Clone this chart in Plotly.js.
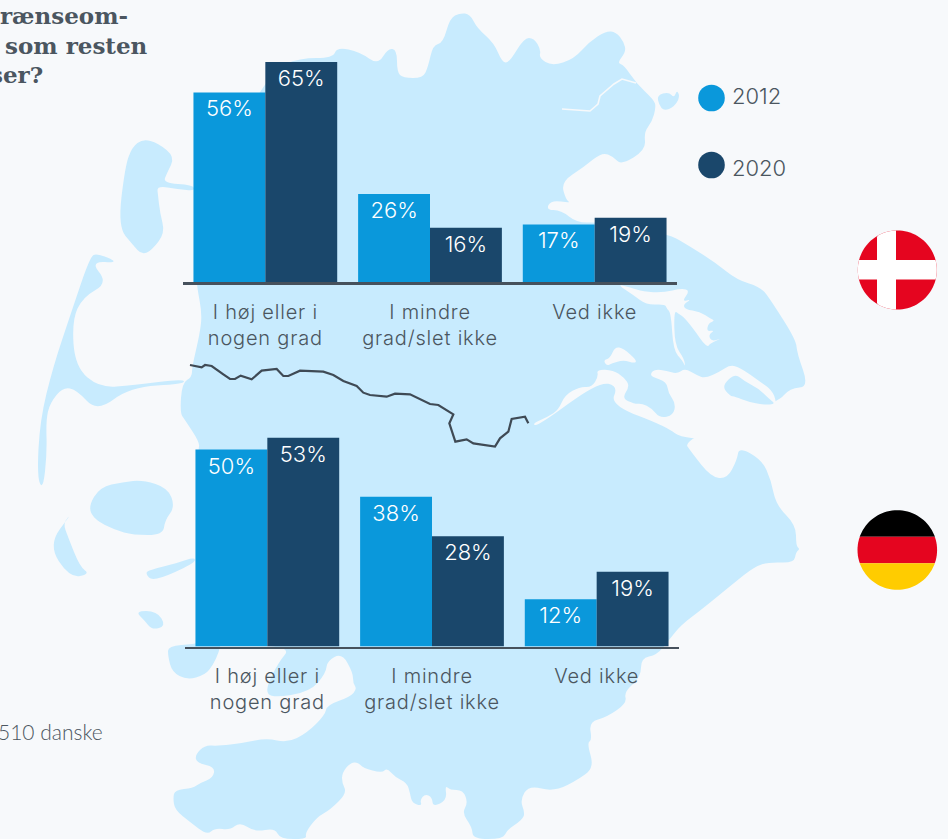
<!DOCTYPE html>
<html>
<head>
<meta charset="utf-8">
<script src="https://cdn.plot.ly/plotly-3.0.1.min.js"></script>
<style>html,body{margin:0;padding:0;background:#f7f9fb;overflow:hidden}
.xtick text,.x2tick text{letter-spacing:.8px}</style>
</head>
<body>
<div id="chart" style="width:948px;height:839px"></div>
<script>
const categories = ["I høj eller i<br>nogen grad", "I mindre<br>grad/slet ikke", "Ved ikke"];
const dk2012 = [56, 26, 17];
const dk2020 = [65, 16, 19];
const de2012 = [50, 38, 12];
const de2020 = [53, 28, 19];
const seriesNames = ["2012", "2020"];
const titleLines = ["rænseom-", "som resten", "ser?"];
const sourceText = "510 danske";

const W = 948, H = 839;
const BG = "#f7f9fb", LAND = "#c8ebfe", C12 = "#0a98db", C20 = "#1a476b", INK = "#4b5660";
const FONT = "Inter, 'Open Sans', sans-serif";

// decorative background map, in page pixels
const mapMain = [[460,13],[470,14],[477,28],[494,43],[502,62],[509,63],[524,38],[534,38],[541,50],[539,58],[552,66],[574,59],[589,42],[606,31],[616,32],[624,42],[626,52],[617,63],[624,65],[636,83],[654,100],[656,107],[652,122],[644,132],[646,150],[621,165],[614,157],[602,152],[584,167],[561,182],[566,200],[571,203],[551,200],[546,210],[561,210],[577,223],[600,222],[667,233],[691,247],[716,263],[737,280],[761,287],[772,302],[796,340],[797,353],[809,387],[790,388],[777,403],[683,440],[692,453],[711,477],[727,479],[737,460],[739,447],[762,460],[771,480],[776,505],[796,525],[796,546],[800,549],[796,552],[794,563],[769,562],[754,567],[734,583],[701,610],[681,625],[669,640],[657,655],[641,658],[641,677],[624,692],[627,703],[607,717],[589,722],[592,740],[587,743],[594,767],[581,778],[554,792],[529,785],[520,800],[525,813],[522,820],[507,830],[503,839],[473,839],[472,827],[462,813],[468,803],[463,790],[450,790],[445,785],[447,800],[433,807],[432,797],[425,794],[420,800],[422,806],[412,803],[410,793],[407,783],[395,777],[387,768],[382,773],[363,768],[358,762],[350,763],[342,773],[342,783],[347,793],[330,810],[317,817],[305,833],[307,839],[280,839],[275,828],[255,832],[240,822],[230,830],[215,828],[207,835],[190,822],[175,810],[173,798],[175,790],[193,788],[200,783],[213,778],[215,767],[197,763],[195,755],[205,745],[218,746],[243,743],[267,738],[287,743],[307,733],[325,715],[327,705],[350,697],[357,689],[353,683],[353,673],[342,653],[327,661],[326,673],[310,692],[272,698],[265,690],[278,663],[292,646],[220,646],[195,637],[198,450],[200,443],[185,420],[180,413],[182,383],[192,377],[192,367],[200,333],[202,313],[197,287],[196,270],[200,200],[270,70],[300,58],[333,58],[337,47],[360,52],[378,65],[388,48],[397,50],[397,72],[403,78],[423,78],[428,67],[433,45],[443,43],[450,18]];
const mapIslands = [
 [[143,139],[158,143],[175,157],[167,173],[163,183],[193,185],[195,191],[178,189],[157,186],[158,195],[160,213],[165,233],[152,250],[142,255],[133,245],[118,227],[125,167],[132,147]],
 [[97,253],[120,263],[90,261],[108,283],[83,297],[72,320],[75,367],[100,388],[133,385],[184,379],[184,384],[130,387],[97,412],[77,390],[63,387],[50,403],[46,420],[47,453],[43,490],[37,477],[40,420],[53,367],[72,310],[90,257]],
 [[88,507],[100,487],[123,482],[143,480],[168,488],[175,507],[165,520],[163,535],[133,535],[115,530],[95,520]],
 [[72,513],[48,545],[70,578],[90,574],[80,567],[68,537],[63,523]],
 [[145,573],[153,582],[195,563],[195,557],[177,563],[150,570]],
 [[135,611],[157,611],[166,626],[152,630],[145,621]],
 [[657,95],[669,92],[674,98],[677,90],[680,97],[674,107],[664,111],[659,105]],
 [[168,646],[195,644],[222,638],[219,652],[213,665],[205,675],[187,680],[172,672],[168,656]]
];
// zoomed-crop coordinates for the eastern waters: x=500+X/3, y=280+Y/3
const z5 = a => a.map(p => [500 + p[0] / 3, 280 + p[1] / 3]);
const mapWaters = [
 z5([[95,432],[145,410],[175,390],[195,345],[240,320],[275,322],[295,290],[290,268],[340,270],[372,292],[390,318],[365,355],[405,372],[425,370],[455,385],[480,415],[520,405],[527,370],[505,340],[500,305],[455,290],[452,280],[465,268],[500,272],[530,282],[555,265],[590,285],[615,295],[660,275],[690,255],[720,262],[780,305],[815,330],[830,365],[835,480],[550,480],[500,440],[330,375],[355,318],[295,305],[115,438]]),
 z5([[350,12],[390,22],[430,35],[490,38],[545,25],[570,32],[545,65],[575,58],[550,72],[555,88],[600,95],[630,115],[645,122],[625,130],[620,155],[645,150],[625,165],[635,185],[668,173],[628,192],[625,200],[610,190],[590,160],[555,115],[535,100],[522,92],[524,195],[552,235],[556,262],[548,242],[520,212],[513,100],[500,85],[495,72],[440,75],[400,45]]),
 z5([[320,258],[310,240],[330,235],[345,200],[370,205],[410,240],[405,250],[370,240],[335,250]])
];
const mapChannel = [[562,109],[590,111],[598,104],[600,96],[614,84],[622,79],[636,83]];
const mapLate = [z5([[665,318],[705,280],[735,305],[775,325],[805,355],[828,372],[790,375],[745,365],[705,350],[690,348]])];
const border = [[30,30],[65,37],[75,30],[95,33],[130,58],[150,72],[165,72],[182,62],[215,73],[245,47],[290,42],[310,63],[325,63],[360,47],[430,50],[460,60],[490,78],[530,93],[550,113],[570,120],[620,125],[645,116],[690,118],[750,147],[775,150],[820,178],[808,205],[826,260],[860,253],[880,265],[945,275],[960,250],[985,230],[995,192],[1035,185],[1045,205]].map(p => [180 + p[0] / 3, 355 + p[1] / 3]);

const px = x => x / W, py = y => 1 - y / H;
const pt = p => px(p[0]).toFixed(5) + "," + py(p[1]).toFixed(5);
const pathOf = (pts, close) => "M" + pts.map(pt).join("L") + (close ? "Z" : "");
// rounded outline: corners become quadratic curves through edge midpoints
function smooth(pts) {
  const mid = (a, b) => [(a[0] + b[0]) / 2, (a[1] + b[1]) / 2];
  const n = pts.length;
  let d = "M" + pt(mid(pts[n - 1], pts[0]));
  for (let i = 0; i < n; i++) d += "Q" + pt(pts[i]) + " " + pt(mid(pts[i], pts[(i + 1) % n]));
  return d + "Z";
}
const fillShape = (pts, color) => ({type:"path", xref:"paper", yref:"paper", layer:"below", path:pathOf(pts,true), fillcolor:color, line:{width:0}});
const blobShape = (pts, color) => ({type:"path", xref:"paper", yref:"paper", layer:"below", path:smooth(pts), fillcolor:color, line:{width:0}});

// flag discs, clipped to bands
function disc(cx, cy, r, x0, x1, y0, y1) {
  const out = [];
  for (let i = 0; i < 96; i++) {
    const a = i / 96 * 2 * Math.PI;
    out.push([Math.min(x1, Math.max(x0, cx + r * Math.cos(a))), Math.min(y1, Math.max(y0, cy + r * Math.sin(a)))]);
  }
  return out;
}
const RED = "#e5051f";
const flags = [
  fillShape(disc(897.3, 270, 39.5, 0, W, 0, H), RED),
  fillShape(disc(897.3, 270, 39.5, 0, W, 260, 279.5), "#ffffff"),
  fillShape(disc(897.3, 270, 39.5, 877, 896, 0, H), "#ffffff"),
  fillShape(disc(897.3, 550, 39.8, 0, W, 0, 536.7), "#000000"),
  fillShape(disc(897.3, 550, 39.8, 0, W, 536.7, 563.3), RED),
  fillShape(disc(897.3, 550, 39.8, 0, W, 563.3, H), "#ffcc00")
];
const legendDots = [[711.5, 98, C12], [711.5, 165, C20]].map(d => ({
  type:"circle", xref:"paper", yref:"paper", layer:"above",
  x0:px(d[0]-13.3), x1:px(d[0]+13.3), y0:py(d[1]+13.3), y1:py(d[1]-13.3),
  fillcolor:d[2], line:{width:0}
}));

const shapes = [
  blobShape(mapMain, LAND),
  ...mapIslands.map(p => blobShape(p, LAND)),
  ...mapWaters.map(p => blobShape(p, BG)),
  {type:"path", xref:"paper", yref:"paper", layer:"below", path:pathOf(mapChannel,false), line:{color:BG, width:1.6}},
  ...mapLate.map(p => blobShape(p, LAND)),
  {type:"path", xref:"paper", yref:"paper", layer:"below", path:pathOf(border,false), line:{color:"#3f4a55", width:2.2}},
  ...flags,
  ...legendDots
];

function barTrace(vals, name, color, xa, ya) {
  return {type:"bar", x:categories, y:vals, name:name, xaxis:xa, yaxis:ya, showlegend:false,
    marker:{color:color, line:{width:0}},
    text:vals.map(v => v + "%"), textposition:"inside", insidetextanchor:"end", constraintext:"none",
    textangle:0, cliponaxis:false,
    textfont:{family:FONT, size:22, color:"#ffffff", weight:300}, hoverinfo:"skip"};
}
const traces = [
  barTrace(dk2012, seriesNames[0], C12, "x", "y"),
  barTrace(dk2020, seriesNames[1], C20, "x", "y"),
  barTrace(de2012, seriesNames[0], C12, "x2", "y2"),
  barTrace(de2020, seriesNames[1], C20, "x2", "y2")
];
const xAxisBase = {type:"category", categoryorder:"array", categoryarray:categories, range:[-0.5,2.5], fixedrange:true,
  showgrid:false, zeroline:false, showline:true, linecolor:"#46515c", ticks:"", ticklabelstandoff:10,
  tickfont:{family:FONT, size:20, color:INK, weight:300}};
const yAxisBase = {visible:false, showgrid:false, zeroline:false, fixedrange:true};

const note = (right, y, text, size, family, weight) => ({xref:"paper", yref:"paper", x:px(right), y:py(y), xanchor:"right", yanchor:"middle",
  showarrow:false, text:text, font:{family:family, size:size, color:INK, weight:weight||400}});
const SLAB = "'DejaVu Serif', serif";
const layout = {
  width:W, height:H, margin:{l:0,r:0,t:0,b:0}, paper_bgcolor:BG, plot_bgcolor:"rgba(0,0,0,0)",
  barmode:"group", bargap:0.127, bargroupgap:0, showlegend:false,
  xaxis:Object.assign({}, xAxisBase, {domain:[px(183),px(677)], anchor:"y", linewidth:2.5}),
  yaxis:Object.assign({}, yAxisBase, {domain:[py(282),py(50)], range:[0,68.54], anchor:"x"}),
  xaxis2:Object.assign({}, xAxisBase, {domain:[px(185),px(679)], anchor:"y2", linewidth:2}),
  yaxis2:Object.assign({}, yAxisBase, {domain:[py(646.5),py(430)], range:[0,54.95], anchor:"x2"}),
  shapes:shapes,
  annotations:[
    note(130, 16, titleLines[0], 23, SLAB, 700),
    note(150, 46, titleLines[1], 23, SLAB, 700),
    note(45, 74, titleLines[2], 23, SLAB, 700),
    note(105, 731, sourceText, 21, "Lato, sans-serif", 300),
    {xref:"paper", yref:"paper", x:px(730), y:py(96), xanchor:"left", yanchor:"middle", showarrow:false, text:seriesNames[0], font:{family:FONT, size:22, color:INK, weight:300}},
    {xref:"paper", yref:"paper", x:px(730), y:py(168), xanchor:"left", yanchor:"middle", showarrow:false, text:seriesNames[1], font:{family:FONT, size:22, color:INK, weight:300}}
  ]
};
Plotly.newPlot("chart", traces, layout, {displayModeBar:false, staticPlot:true});
</script>
</body>
</html>
